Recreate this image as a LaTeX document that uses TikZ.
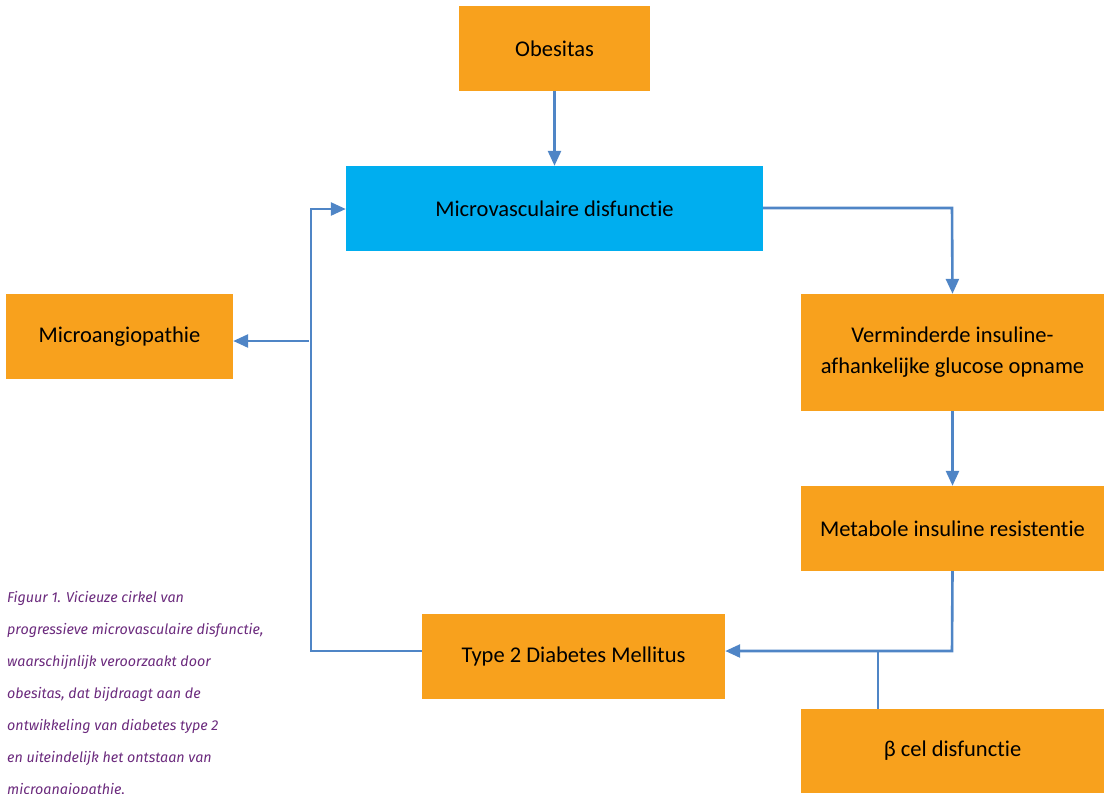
\documentclass[tikz,border=0pt]{standalone}
\usepackage{fontspec}
\setmainfont[Ligatures=NoCommon]{Carlito}
\newfontfamily\capfont{Fira Sans}
\usetikzlibrary{arrows.meta}
\definecolor{boxorange}{HTML}{F8A11D}
\definecolor{boxcyan}{HTML}{00AEEF}
\definecolor{linkblue}{HTML}{4F85C6}
\definecolor{captext}{HTML}{6B2A7D}
\tikzset{
  box/.style={fill=boxorange, draw=none, inner sep=0pt, align=center, font=\fontsize{22.5}{31}\selectfont, text=black},
  link/.style={draw=linkblue, line width=2.6pt},
  arr/.style={link, -{Triangle[length=15pt,width=13pt]}},
}
\begin{document}
\begin{tikzpicture}[x=1pt,y=-1pt]
\useasboundingbox (0,0) rectangle (1107,793);
\node[box, minimum width=191pt, minimum height=85pt] (obes) at (554.5,48.5) {Obesitas};
\node[box, fill=boxcyan, minimum width=417pt, minimum height=85pt] (micro) at (554.5,208.5) {Microvasculaire disfunctie};
\node[box, minimum width=227pt, minimum height=85pt] (angio) at (119.5,336.5) {Microangiopathie};
\node[box, minimum width=303pt, minimum height=117pt] (verm) at (952.5,352.5) {Verminderde insuline-\\afhankelijke glucose opname};
\node[box, minimum width=303pt, minimum height=85pt] (meta) at (952.5,528.5) {Metabole insuline resistentie};
\node[box, minimum width=303pt, minimum height=85pt] (type2) at (573.5,656.5) {Type 2 Diabetes Mellitus};
\node[box, minimum width=303pt, minimum height=84pt] (beta) at (952.5,751) {β cel disfunctie};
\coordinate (rt) at (952,208);
\coordinate (rb) at (952,651);
\coordinate (join) at (878,651);
\coordinate (lb) at (311,651);
\coordinate (lt) at (311,209);
\coordinate (lm) at (309,341);
\draw[arr] (obes.south) -- (micro.north);
\draw[arr] (micro.east |- rt) -- (rt) -- (verm.north);
\draw[arr] (verm.south) -- (meta.north);
\draw[arr] (meta.south) -- (rb) -- (type2.east |- rb);
\draw[link] (beta.north -| join) -- (join);
\draw[arr] (type2.west |- lb) -- (lb) -- (lt) -- (micro.west |- lt);
\draw[arr] (lm) -- (angio.east |- lm);
\node[anchor=north west, inner sep=0pt, align=left, text=captext, font=\capfont\itshape\fontsize{14.3}{32}\selectfont] (cap) at (7,591) {Figuur 1. Vicieuze cirkel van\\progressieve microvasculaire disfunctie,\\waarschijnlijk veroorzaakt door\\obesitas, dat bijdraagt aan de\\ontwikkeling van diabetes type 2\\en uiteindelijk het ontstaan van\\microangiopathie.};
\end{tikzpicture}
\end{document}
